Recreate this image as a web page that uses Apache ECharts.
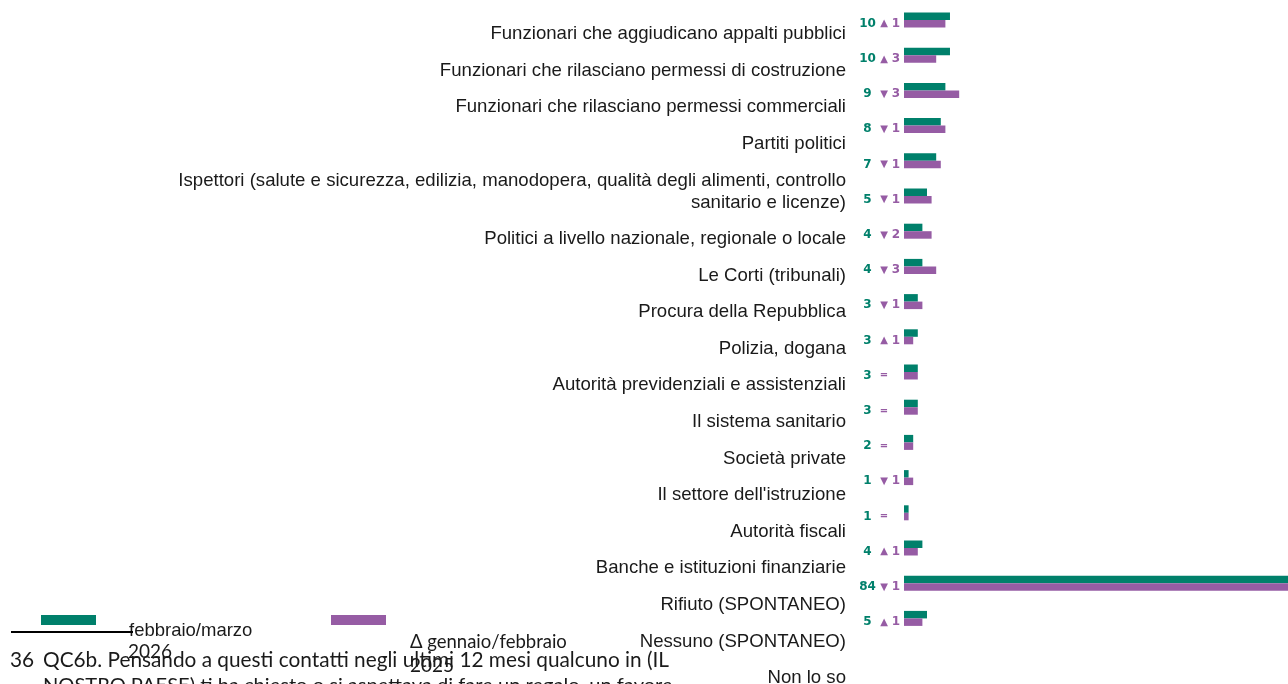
<!DOCTYPE html>
<html>
<head>
<meta charset="utf-8">
<style>
  html, body { margin: 0; padding: 0; background: #ffffff; }
  #chart { width: 1288px; height: 684px; }
</style>
<script src="https://cdn.jsdelivr.net/npm/echarts@6/dist/echarts.min.js"></script>
</head>
<body>
<div id="chart"></div>
<script>
// Categories (top to bottom)
const categories = [
  'Funzionari che aggiudicano appalti pubblici',
  'Funzionari che rilasciano permessi di costruzione',
  'Funzionari che rilasciano permessi commerciali',
  'Partiti politici',
  'Ispettori (salute e sicurezza, edilizia, manodopera, qualità degli alimenti, controllo\nsanitario e licenze)',
  'Politici a livello nazionale, regionale o locale',
  'Le Corti (tribunali)',
  'Procura della Repubblica',
  'Polizia, dogana',
  'Autorità previdenziali e assistenziali',
  'Il sistema sanitario',
  'Società private',
  "Il settore dell'istruzione",
  'Autorità fiscali',
  'Banche e istituzioni finanziarie',
  'Rifiuto (SPONTANEO)',
  'Nessuno (SPONTANEO)',
  'Non lo so'
];

// Current wave, febbraio/marzo 2026 (%)
const current2026 = [10, 10, 9, 8, 7, 5, 4, 4, 3, 3, 3, 3, 2, 1, 1, 4, 84, 5];
// Change versus gennaio/febbraio 2025 (points)
const delta = [1, 3, -3, -1, -1, -1, -2, -3, -1, 1, 0, 0, 0, -1, 0, 1, -1, 1];
// Previous wave, gennaio/febbraio 2025 (%)
const previous2025 = current2026.map((v, i) => v - delta[i]);

const seriesNames = ['febbraio/marzo\n2026', 'Δ gennaio/febbraio\n2025'];

const GREEN = '#00806b';
const PURPLE = '#965ca4';

const chart = echarts.init(document.getElementById('chart'));

// Label-only category axes (rows sit on the ticks)
const labelAxisBase = {
  type: 'category',
  inverse: true,
  boundaryGap: false,
  axisLine: { show: false },
  axisTick: { show: false },
  splitLine: { show: false },
  axisLabel: {
    interval: 0,
    margin: 8,
    color: '#1a1a1a',
    fontFamily: 'Liberation Sans, Arial, sans-serif',
    fontSize: 18.6,
    lineHeight: 22,
    align: 'right',
    // two-line label: keep its first line on the row
    formatter: v => (v.indexOf('\n') >= 0 ? '\n' + v : v)
  }
};

chart.setOption({
  animation: false,
  backgroundColor: '#ffffff',
  grid: [
    { left: 904, right: 0, top: 2.4, height: 633.6, containLabel: false, outerBoundsMode: 'none' },
    { left: 854, top: 34, width: 10, height: 146.4, containLabel: false, outerBoundsMode: 'none' },
    { left: 854, top: 239, width: 10, height: 439, containLabel: false, outerBoundsMode: 'none' }
  ],
  xAxis: [
    { type: 'value', gridIndex: 0, min: 0, max: 83.5, show: false },
    { type: 'value', gridIndex: 1, show: false },
    { type: 'value', gridIndex: 2, show: false }
  ],
  yAxis: [
    {
      type: 'category', gridIndex: 0, inverse: true, data: categories,
      axisLine: { show: false }, axisTick: { show: false }, axisLabel: { show: false }
    },
    Object.assign({}, labelAxisBase, { gridIndex: 1, data: categories.slice(0, 5) }),
    Object.assign({}, labelAxisBase, { gridIndex: 2, data: categories.slice(5) })
  ],
  series: [
    {
      name: seriesNames[0],
      type: 'bar',
      xAxisIndex: 0, yAxisIndex: 0,
      data: current2026,
      barWidth: 7.5,
      barGap: '0%',
      clip: false,
      itemStyle: { color: GREEN },
      silent: true
    },
    {
      name: seriesNames[1],
      type: 'bar',
      xAxisIndex: 0, yAxisIndex: 0,
      data: previous2025,
      barWidth: 7.5,
      barGap: '0%',
      clip: false,
      itemStyle: { color: PURPLE },
      silent: true,
      label: {
        show: true,
        position: 'left',
        distance: 4,
        formatter: p => {
          const i = p.dataIndex;
          const d = delta[i];
          const sym = d > 0 ? '▲' : (d < 0 ? '▼' : '=');
          const num = d === 0 ? '' : String(Math.abs(d));
          return '{g|' + current2026[i] + '}{t|' + sym + '}{p|' + num + '}';
        },
        rich: {
          g: { color: GREEN, fontFamily: 'DejaVu Sans', fontWeight: 'bold', fontSize: 12, width: 19, align: 'right' },
          t: { color: PURPLE, fontFamily: 'DejaVu Sans', fontWeight: 'bold', fontSize: 10, width: 14, align: 'center' },
          p: { color: PURPLE, fontFamily: 'DejaVu Sans', fontWeight: 'bold', fontSize: 12, width: 9, align: 'right' }
        }
      }
    }
  ],
  graphic: [
    // legend swatches
    { type: 'rect', shape: { x: 41, y: 615, width: 55, height: 10 }, style: { fill: GREEN } },
    { type: 'rect', shape: { x: 331, y: 615, width: 55, height: 10 }, style: { fill: PURPLE } },
    // legend texts
    { type: 'text', x: 129, y: 631, style: { text: 'febbraio/marzo', fill: '#1a1a1a', font: '18.5px "Liberation Sans", Arial, sans-serif', textVerticalAlign: 'middle' } },
    { type: 'text', x: 128, y: 652, style: { text: '2026', fill: '#1a1a1a', font: '19px Lato, sans-serif', textVerticalAlign: 'middle' } },
    { type: 'text', x: 410, y: 642, style: { text: 'Δ gennaio/febbraio', fill: '#1a1a1a', font: '18.5px Lato, sans-serif', textVerticalAlign: 'middle' } },
    { type: 'text', x: 410, y: 666, style: { text: '2025', fill: '#1a1a1a', font: '19px Lato, sans-serif', textVerticalAlign: 'middle' } },
    // footer rule
    { type: 'line', shape: { x1: 11, y1: 632, x2: 133, y2: 632 }, style: { stroke: '#000000', lineWidth: 2 } },
    // footer note
    { type: 'text', x: 10, y: 660, style: { text: '36', fill: '#1a1a1a', font: '20.8px Lato, sans-serif', textVerticalAlign: 'middle' } },
    { type: 'text', x: 43, y: 660, style: { text: 'QC6b. Pensando a questi contatti negli ultimi 12 mesi qualcuno in (IL', fill: '#1a1a1a', font: '20.8px Lato, sans-serif', textVerticalAlign: 'middle' } },
    { type: 'text', x: 43, y: 686, style: { text: 'NOSTRO PAESE) ti ha chiesto o si aspettava di fare un regalo, un favore', fill: '#1a1a1a', font: '20.1px Lato, sans-serif', textVerticalAlign: 'middle' } }
  ]
});
</script>
</body>
</html>
